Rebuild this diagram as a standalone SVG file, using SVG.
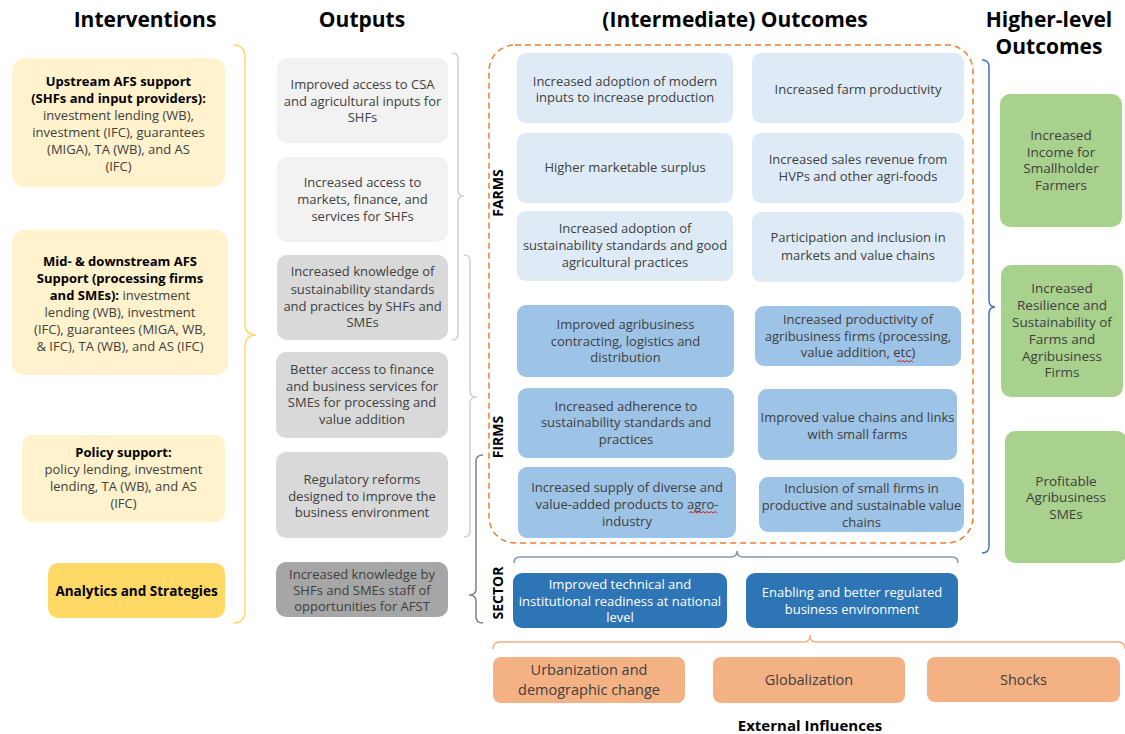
<svg xmlns="http://www.w3.org/2000/svg" width="1125" height="734" viewBox="0 0 1125 734">
<style>
.t{font-family:"Open Sans","Noto Sans",sans-serif;font-size:13px;fill:#404040;text-anchor:middle}
.b{font-weight:bold;fill:#000;font-size:13px}
.h{font-family:"Open Sans","Noto Sans",sans-serif;font-size:21px;font-weight:bold;fill:#000;text-anchor:middle}
.lab{font-family:"Open Sans","Noto Sans",sans-serif;font-size:14px;font-weight:bold;fill:#000;text-anchor:middle}
.iv{fill:#FFF2CC}
.an{fill:#FFD966}
.o1{fill:#F2F2F2}
.o2{fill:#D9D9D9}
.o3{fill:#A6A6A6}
.fa{fill:#DEEBF7}
.fi{fill:#9DC3E6}
.se{fill:#2E75B6}
.ex{fill:#F4B183}
.hi{fill:#A9D18E}
.w{fill:#fff}
.e{font-size:14.5px}
.g{font-size:13.5px}
.br{fill:none;stroke-width:1.5}
</style>

<g id="titles">
<text class="h" x="145" y="27">Interventions</text>
<text class="h" x="362" y="27">Outputs</text>
<text class="h" x="735" y="27">(Intermediate) Outcomes</text>
<text class="h" x="1049" y="27">Higher-level</text>
<text class="h" x="1049" y="54">Outcomes</text>
</g>

<g id="connectors">
<rect x="489" y="45" width="484" height="498" rx="26" fill="none" stroke="#ED7D31" stroke-width="1.5" stroke-dasharray="6,4"/>
<path class="br" stroke="#FFD966" d="M233,45 Q245,45 245,57 L245,323 Q245,335 256,335 Q245,335 245,347 L245,611 Q245,623 233,623"/>
<path class="br" stroke="#D0D0D0" d="M452,53 Q458,53 458,59 L458,190 Q458,196 464,196 Q458,196 458,202 L458,334 Q458,340 452,340"/>
<path class="br" stroke="#D0D0D0" d="M464,255 Q470,255 470,261 L470,391 Q470,397 477,397 Q470,397 470,403 L470,531 Q470,537 464,537"/>
<path class="br" stroke="#808080" d="M483,455 Q476,455 476,461 L476,589 Q476,595 469,595 Q476,595 476,601 L476,617 Q476,623 483,623"/>
<path class="br" stroke="#4472C4" d="M982,60 Q989,60 989,67 L989,300 Q989,307 995,307 Q989,307 989,314 L989,546 Q989,553 982,553"/>
<path class="br" stroke="#8497B0" d="M514,563 Q514,557 520,557 L731,557 Q737,557 737,551 Q737,557 743,557 L952,557 Q958,557 958,563"/>
<path class="br" stroke="#F4B183" d="M493,649 Q493,642 500,642 L804,642 Q810,642 810,635 Q810,642 816,642 L1118,642 Q1125,642 1125,649"/>
</g>

<g id="int-upstream">
<rect class="iv" x="12" y="58" width="213" height="129" rx="13"/>
<text class="t b" x="118.5" y="86">Upstream AFS support</text>
<text class="t b" x="118.5" y="103">(SHFs and input providers):</text>
<text class="t" x="118.5" y="120">investment lending (WB),</text>
<text class="t" x="118.5" y="137">investment (IFC), guarantees</text>
<text class="t" x="118.5" y="154">(MIGA), TA (WB), and AS</text>
<text class="t" x="118.5" y="171">(IFC)</text>
</g>
<g id="int-midstream">
<rect class="iv" x="12" y="230" width="216" height="145" rx="13"/>
<text class="t b" x="120" y="266">Mid- &amp;  downstream AFS</text>
<text class="t b" x="120" y="283">Support (processing firms</text>
<text class="t" x="120" y="300"><tspan class="b">and SMEs):</tspan> investment</text>
<text class="t" x="120" y="317">lending (WB), investment</text>
<text class="t" x="120" y="334">(IFC), guarantees (MIGA, WB,</text>
<text class="t" x="120" y="351">&amp; IFC), TA (WB), and AS (IFC)</text>
</g>
<g id="int-policy">
<rect class="iv" x="22" y="435" width="203" height="87" rx="10"/>
<text class="t b" x="123.5" y="457">Policy support:</text>
<text class="t" x="123.5" y="474">policy lending, investment</text>
<text class="t" x="123.5" y="491">lending, TA (WB), and AS</text>
<text class="t" x="123.5" y="508">(IFC)</text>
</g>
<g id="int-analytics">
<rect class="an" x="48" y="563" width="177" height="55" rx="10"/>
<text class="t b" x="136.5" y="596" style="font-size:13.5px">Analytics and Strategies</text>
</g>

<g id="out-1">
<rect class="o1" x="277" y="58" width="171" height="85" rx="10"/>
<text class="t" x="362.5" y="89">Improved access to CSA</text>
<text class="t" x="362.5" y="106">and agricultural inputs for</text>
<text class="t" x="362.5" y="122">SHFs</text>
</g>
<g id="out-2">
<rect class="o1" x="277" y="157" width="171" height="85" rx="10"/>
<text class="t" x="362.5" y="187">Increased access to</text>
<text class="t" x="362.5" y="204">markets, finance, and</text>
<text class="t" x="362.5" y="221">services for SHFs</text>
</g>
<g id="out-3">
<rect class="o2" x="277" y="255" width="171" height="85" rx="10"/>
<text class="t" x="362.5" y="276">Increased knowledge of</text>
<text class="t" x="362.5" y="294">sustainability standards</text>
<text class="t" x="362.5" y="311">and practices by SHFs and</text>
<text class="t" x="362.5" y="327">SMEs</text>
</g>
<g id="out-4">
<rect class="o2" x="276" y="352" width="172" height="86" rx="10"/>
<text class="t" x="362" y="374">Better access to finance</text>
<text class="t" x="362" y="391">and business services for</text>
<text class="t" x="362" y="407">SMEs for processing and</text>
<text class="t" x="362" y="424">value addition</text>
</g>
<g id="out-5">
<rect class="o2" x="276" y="452" width="172" height="86" rx="10"/>
<text class="t" x="362" y="484">Regulatory reforms</text>
<text class="t" x="362" y="501">designed to improve the</text>
<text class="t" x="362" y="517">business environment</text>
</g>
<g id="out-6">
<rect class="o3" x="276" y="562" width="172" height="55" rx="10"/>
<text class="t" x="362" y="579">Increased knowledge by</text>
<text class="t" x="362" y="595">SHFs and SMEs staff of</text>
<text class="t" x="362" y="611">opportunities for AFST</text>
</g>

<g id="labels">
<text class="lab" transform="translate(503,193) rotate(-90)">FARMS</text>
<text class="lab" transform="translate(503,437) rotate(-90)">FIRMS</text>
<text class="lab" transform="translate(503,593) rotate(-90)">SECTOR</text>
</g>

<g id="farm-1">
<rect class="fa" x="517" y="53" width="216" height="70" rx="9"/>
<text class="t" x="625" y="86">Increased adoption of modern</text>
<text class="t" x="625" y="102">inputs to increase production</text>
</g>
<g id="farm-2">
<rect class="fa" x="752" y="53" width="212" height="70" rx="9"/>
<text class="t" x="858" y="94">Increased farm productivity</text>
</g>
<g id="farm-3">
<rect class="fa" x="517" y="133" width="216" height="70" rx="9"/>
<text class="t" x="625" y="172">Higher marketable surplus</text>
</g>
<g id="farm-4">
<rect class="fa" x="752" y="133" width="212" height="70" rx="9"/>
<text class="t" x="858" y="164">Increased sales revenue from</text>
<text class="t" x="858" y="181">HVPs and other agri-foods</text>
</g>
<g id="farm-5">
<rect class="fa" x="517" y="211" width="216" height="70" rx="9"/>
<text class="t" x="625" y="233">Increased adoption of</text>
<text class="t" x="625" y="250">sustainability standards and good</text>
<text class="t" x="625" y="267">agricultural practices</text>
</g>
<g id="farm-6">
<rect class="fa" x="752" y="212" width="212" height="70" rx="9"/>
<text class="t" x="858" y="242">Participation and inclusion in</text>
<text class="t" x="858" y="260">markets and value chains</text>
</g>

<g id="firm-1">
<rect class="fi" x="517" y="305" width="217" height="72" rx="9"/>
<text class="t" x="625.5" y="329">Improved agribusiness</text>
<text class="t" x="625.5" y="346">contracting, logistics and</text>
<text class="t" x="625.5" y="362">distribution</text>
</g>
<g id="firm-2">
<rect class="fi" x="755" y="306" width="206" height="60" rx="9"/>
<text class="t" x="858" y="324">Increased productivity of</text>
<text class="t" x="858" y="341">agribusiness firms (processing,</text>
<text class="t" x="858" y="357">value addition, etc)</text>
<path d="M897,362 l2,-1.5 l2,1.5 l2,-1.5 l2,1.5 l2,-1.5 l2,1.5 l2,-1.5 l2,1.5" fill="none" stroke="#E00000" stroke-width="0.8"/>
</g>
<g id="firm-3">
<rect class="fi" x="518" y="388" width="216" height="70" rx="9"/>
<text class="t" x="626" y="411">Increased adherence to</text>
<text class="t" x="626" y="427">sustainability standards and</text>
<text class="t" x="626" y="444">practices</text>
</g>
<g id="firm-4">
<rect class="fi" x="758" y="389" width="199" height="71" rx="9"/>
<text class="t" x="857.5" y="422">Improved value chains and links</text>
<text class="t" x="857.5" y="439">with small farms</text>
</g>
<g id="firm-5">
<rect class="fi" x="518" y="467" width="218" height="71" rx="9"/>
<text class="t" x="627" y="492">Increased supply of diverse and</text>
<text class="t" x="627" y="509">value-added products to agro-</text>
<text class="t" x="627" y="526">industry</text>
<path d="M689,513 l2,-1.5 l2,1.5 l2,-1.5 l2,1.5 l2,-1.5 l2,1.5 l2,-1.5 l2,1.5 l2,-1.5 l2,1.5 l2,-1.5 l2,1.5 l2,-1.5 l2,1.5" fill="none" stroke="#E00000" stroke-width="0.8"/>
</g>
<g id="firm-6">
<rect class="fi" x="759" y="477" width="205" height="55" rx="9"/>
<text class="t" x="861.5" y="493">Inclusion of small firms in</text>
<text class="t" x="861.5" y="510">productive and sustainable value</text>
<text class="t" x="861.5" y="527">chains</text>
</g>

<g id="sector-1">
<rect class="se" x="513" y="573" width="214" height="55" rx="9"/>
<text class="t w" x="620" y="589">Improved technical and</text>
<text class="t w" x="620" y="606">institutional readiness at national</text>
<text class="t w" x="620" y="622">level</text>
</g>
<g id="sector-2">
<rect class="se" x="746" y="573" width="212" height="55" rx="9"/>
<text class="t w" x="852" y="597">Enabling and better regulated</text>
<text class="t w" x="852" y="614">business environment</text>
</g>

<g id="ext-1">
<rect class="ex" x="493" y="657" width="192" height="46" rx="8"/>
<text class="t e" x="589" y="675">Urbanization and</text>
<text class="t e" x="589" y="695">demographic change</text>
</g>
<g id="ext-2">
<rect class="ex" x="713" y="657" width="192" height="46" rx="8"/>
<text class="t e" x="809" y="685">Globalization</text>
</g>
<g id="ext-3">
<rect class="ex" x="927" y="657" width="193" height="45" rx="8"/>
<text class="t e" x="1023.5" y="685">Shocks</text>
</g>
<text class="lab" x="810" y="731" style="font-size:15px">External Influences</text>

<g id="high-1">
<rect class="hi" x="1000" y="94" width="122" height="133" rx="10"/>
<text class="t g" x="1061" y="140">Increased</text>
<text class="t g" x="1061" y="157">Income for</text>
<text class="t g" x="1061" y="173">Smallholder</text>
<text class="t g" x="1061" y="190">Farmers</text>
</g>
<g id="high-2">
<rect class="hi" x="1001" y="265" width="122" height="132" rx="10"/>
<text class="t g" x="1062" y="293">Increased</text>
<text class="t g" x="1062" y="310">Resilience and</text>
<text class="t g" x="1062" y="327">Sustainability of</text>
<text class="t g" x="1062" y="344">Farms and</text>
<text class="t g" x="1062" y="361">Agribusiness</text>
<text class="t g" x="1062" y="377">Firms</text>
</g>
<g id="high-3">
<rect class="hi" x="1005" y="431" width="122" height="132" rx="10"/>
<text class="t g" x="1066" y="486">Profitable</text>
<text class="t g" x="1066" y="502">Agribusiness</text>
<text class="t g" x="1066" y="519">SMEs</text>
</g>
</svg>
